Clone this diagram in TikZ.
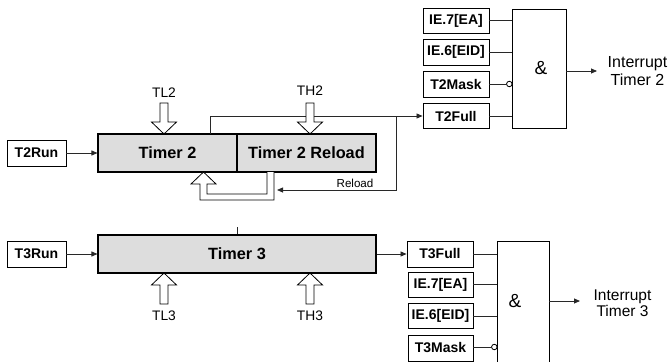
\documentclass[tikz,border=0pt]{standalone}
\usepackage{fontspec}
\setmainfont{Liberation Sans}
\usetikzlibrary{arrows.meta}
\definecolor{boxgray}{RGB}{221,221,221}
\definecolor{linec}{RGB}{40,40,40}
\begin{document}
\begin{tikzpicture}[x=1pt,y=-1pt,
  line width=0.8pt,
  lbl/.style={draw, line width=0.9pt, inner sep=0, minimum height=25.5,
    font=\fontsize{14}{15}\selectfont\bfseries},
  timer/.style={draw, line width=1.1pt, fill=boxgray, inner sep=0, minimum height=38,
    font=\fontsize{16.3}{17}\selectfont\bfseries},
  gate/.style={draw, line width=0.9pt, inner sep=0},
  conn/.style={draw=linec, -{Triangle[length=6pt,width=5pt]}},
  wire/.style={draw=linec},
  hollow/.style={draw, fill=white, line width=0.8pt},
  regtxt/.style={font=\fontsize{13.8}{14}\selectfont, inner sep=0},
  outtxt/.style={font=\fontsize{16}{18}\selectfont, align=center, inner sep=0},
  amp/.style={font=\fontsize{19}{19}\selectfont, inner sep=0},
  bubble/.style={circle, draw, fill=white, line width=0.8pt, inner sep=0, minimum size=5.5},
  hdown/.pic={\draw[hollow] (0,0) -- (12.5,-12) -- (4,-12) -- (4,-31) -- (-4,-31) -- (-4,-12) -- (-12.5,-12) -- cycle;},
  hup/.pic={\draw[hollow] (0,0) -- (12.5,12) -- (4,12) -- (4,31) -- (-4,31) -- (-4,12) -- (-12.5,12) -- cycle;}
]
\useasboundingbox (0,0) rectangle (668,361);
\clip (0,0) rectangle (668,361);

% ---------- Timer 2 section ----------
\node[lbl, minimum width=59, minimum height=26] (t2run) at (36.5,153) {T2Run};
\node[timer, minimum width=139] (timer2) at (167.5,153) {Timer 2};
\node[timer, minimum width=139] (reload2) at (306.5,153) {Timer 2 Reload};

\node[lbl, minimum width=66, minimum height=25] (ea2) at (456,20.5) {IE.7[EA]};
\node[lbl, minimum width=66, minimum height=26] (eid2) at (456,52) {IE.6[EID]};
\node[lbl, minimum width=66, minimum height=26] (mask2) at (456,84) {T2Mask};
\node[lbl, minimum width=66, minimum height=25] (full2) at (456,116) {T2Full};
\node[gate, minimum width=54, minimum height=119] (gate2) at (539,68.5) {};
\node[amp] (amp2) at (541,68) {\&};
\node[outtxt] (int2) at (637.5,71) {Interrupt\\Timer 2};

\draw[conn] (t2run) -- (timer2);

\coordinate (tap2) at (210,134);
\coordinate (rj) at (396,116);
\coordinate (rin) at (277,190);
\draw[conn] (tap2) |- (full2.west);
\draw[conn] (rj) |- (rin);
\node[font=\fontsize{11.6}{12}\selectfont, inner sep=0] (rtxt) at (355,183) {Reload};

\draw[wire] (ea2.east) -- (ea2.east -| gate2.west);
\draw[wire] (eid2.east) -- (eid2.east -| gate2.west);
\node[bubble] (b2) at (509.3,84) {};
\draw[wire] (mask2.east) -- (b2.west);
\draw[wire] (full2.east) -- (full2.east -| gate2.west);
\coordinate (o2) at (597,71);
\draw[conn] (gate2.east |- o2) -- (o2);

\node[regtxt] (tl2) at (164,92.5) {TL2};
\node[regtxt] (th2) at (310,91) {TH2};
\pic at (164,134) {hdown};
\pic at (310,134) {hdown};

% reload loop arrow
\draw[hollow] (274,172) -- (274,200) -- (200,200) -- (200,184) -- (191,184)
  -- (203.5,172) -- (216,184) -- (207,184) -- (207,194) -- (267,194) -- (267,172);

% ---------- Timer 3 section ----------
\node[lbl, minimum width=59, minimum height=26] (t3run) at (36.5,254) {T3Run};
\node[timer, minimum width=278] (timer3) at (237,254) {Timer 3};
\coordinate (tick) at (237,227);
\draw[wire] (tick) -- (timer3.north);

\node[lbl, minimum width=66, minimum height=26] (full3) at (440,254) {T3Full};
\node[lbl, minimum width=65, minimum height=25] (ea3) at (440.5,284.5) {IE.7[EA]};
\node[lbl, minimum width=65, minimum height=25] (eid3) at (440.5,316) {IE.6[EID]};
\node[lbl, minimum width=65, minimum height=26] (mask3) at (440.5,348) {T3Mask};
\node[gate, minimum width=52, minimum height=124] (gate3) at (523,303) {};
\node[amp] (amp3) at (515,301) {\&};
\node[outtxt, font=\fontsize{15.5}{16.5}\selectfont] (int3) at (622.5,303) {Interrupt\\Timer 3};

\draw[conn] (t3run) -- (timer3);
\draw[conn] (timer3) -- (full3);

\draw[wire] (full3.east) -- (full3.east -| gate3.west);
\draw[wire] (ea3.east) -- (ea3.east -| gate3.west);
\draw[wire] (eid3.east) -- (eid3.east -| gate3.west);
\node[bubble] (b3) at (494.3,347) {};
\draw[wire] (mask3.east |- b3) -- (b3.west);
\coordinate (o3) at (580,301);
\draw[conn] (gate3.east |- o3) -- (o3);

\node[regtxt] (tl3) at (164,316) {TL3};
\node[regtxt] (th3) at (310,316) {TH3};
\pic at (164,273) {hup};
\pic at (310,273) {hup};
\end{tikzpicture}
\end{document}
